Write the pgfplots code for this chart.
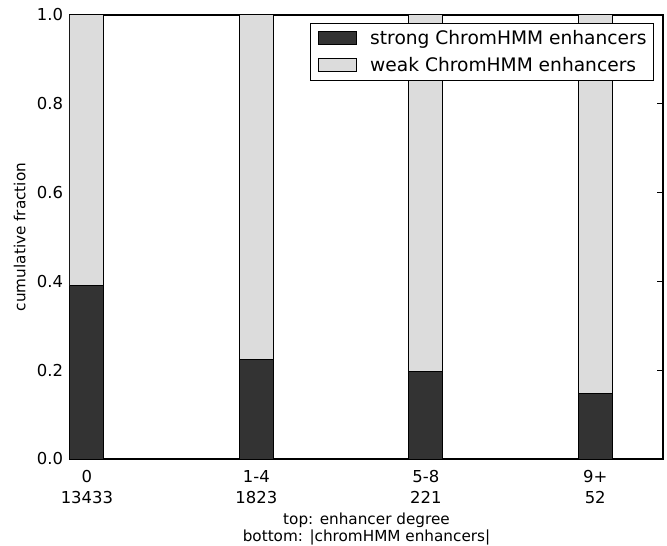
\documentclass[border=0pt]{standalone}
\usepackage{pgfplots}
\pgfplotsset{compat=1.18}
\usepackage{fontspec}
\setmainfont{DejaVu Sans}
\usetikzlibrary{calc}
\definecolor{strongc}{RGB}{51,51,51}
\definecolor{weakc}{RGB}{220,220,220}
\begin{document}
\begin{tikzpicture}
\begin{axis}[name=ax, scale only axis, width=593bp, height=444bp,
  xmin=-0.1, xmax=3.4, ymin=0, ymax=1,
  ybar stacked, bar width=0.2,
  axis line style={line width=1.3bp, black},
  xtick={0,1,2,3},
  xticklabels={{0\\13433},{1-4\\1823},{5-8\\221},{9+\\52}},
  ytick={0,0.2,0.4,0.6,0.8,1},
  yticklabel={\pgfmathprintnumber[fixed,fixed zerofill,precision=1,assume math mode=true]{\tick}},
  tick style={black, line width=0.7bp},
  major tick length=6bp,
  tick label style={font=\fontsize{16.5}{21}\selectfont},
  xticklabel style={align=center, anchor=north, inner sep=0pt, yshift=-11bp, font=\fontsize{16.5}{21}\selectfont},
  yticklabel style={xshift=-3.5bp},
  ylabel={cumulative fraction},
  ylabel style={font=\fontsize{15.3}{18}\selectfont, at={(axis description cs:-0.085,0.5)}, anchor=center},
  xlabel={top: enhancer degree\\bottom: |chromHMM enhancers|},
  xlabel style={font=\fontsize{15.3}{17.5}\selectfont, align=center, at={(axis description cs:0.5,-0.1577)}, anchor=center},
  legend cell align=left,
  legend image code/.code={\draw[#1, draw=black, line width=1bp] (0bp,-6bp) rectangle (38bp,7bp);},
  legend style={draw=black, line width=1bp, at={(axis description cs:1,1)}, anchor=north east,
    xshift=-9bp, yshift=-8bp, font=\fontsize{18.7}{22}\selectfont,
    inner xsep=7bp, inner ysep=4bp, row sep=4.7bp,
    nodes={inner sep=0bp, text height=17bp, text depth=5bp},
    /tikz/every odd column/.append style={column sep=13.5bp}},
]
\addplot[fill=strongc, draw=black, line width=1bp] coordinates {(0,0.390) (1,0.224) (2,0.198) (3,0.147)};
\addplot[fill=weakc, draw=black, line width=1bp] coordinates {(0,0.610) (1,0.776) (2,0.802) (3,0.853)};
\legend{strong ChromHMM enhancers, weak ChromHMM enhancers}
\end{axis}
\pgfresetboundingbox
\path ($(ax.south west)+(-70bp,-87bp)$) rectangle ($(ax.north east)+(4bp,15bp)$);
\end{tikzpicture}
\end{document}
